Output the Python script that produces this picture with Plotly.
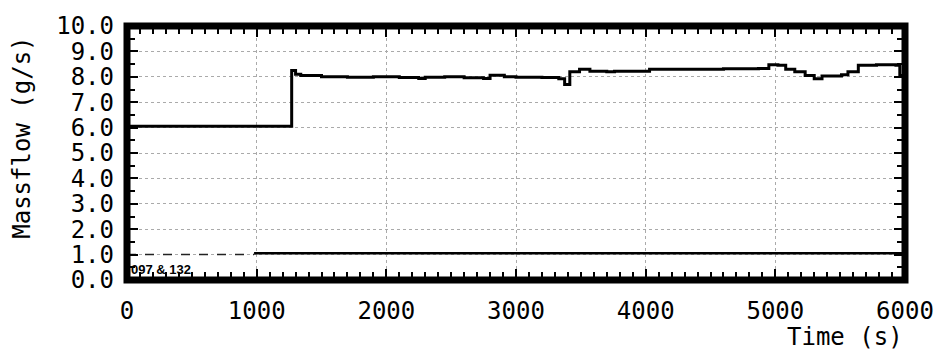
import plotly.graph_objects as go

# Series 1: main massflow (g/s)
t1 = [0, 1270, 1300, 1340, 1500, 1700, 1900, 2100, 2250, 2300, 2450, 2600, 2750, 2800, 2910,
      3000, 3200, 3330, 3375, 3415, 3490, 3570, 3700, 3760, 4030, 4300, 4600, 4870, 4950,
      5020, 5080, 5150, 5230, 5300, 5360, 5510, 5560, 5640, 5780, 5930, 5960, 6000]
v1 = [6.05, 8.25, 8.1, 8.05, 8.0, 7.98, 8.0, 7.97, 7.93, 7.98, 8.0, 7.96, 7.93, 8.06, 8.0,
      7.98, 7.97, 7.92, 7.7, 8.2, 8.3, 8.22, 8.2, 8.22, 8.3, 8.3, 8.32, 8.33, 8.47,
      8.45, 8.3, 8.2, 8.05, 7.92, 8.03, 8.08, 8.2, 8.45, 8.47, 8.45, 8.05, 8.0]

# Series 2: secondary massflow (g/s)
t2a = [0, 980]
v2a = [1.0, 1.0]
t2 = [980, 1500, 2500, 3500, 4500, 5500, 6000]
v2 = [1.05, 1.05, 1.04, 1.05, 1.05, 1.04, 1.05]

x_ticks = [0, 1000, 2000, 3000, 4000, 5000, 6000]
y_ticks = [0, 1, 2, 3, 4, 5, 6, 7, 8, 9, 10]

MONO = "DejaVu Sans Mono"

fig = go.Figure()
fig.add_trace(go.Scatter(x=t1, y=v1, mode="lines", line=dict(color="black", width=3, shape="hv"),
                         showlegend=False))
fig.add_trace(go.Scatter(x=t2a, y=v2a, mode="lines", line=dict(color="#222", width=1.5, dash="dash"),
                         showlegend=False))
fig.add_trace(go.Scatter(x=t2, y=v2, mode="lines", line=dict(color="black", width=2.5),
                         showlegend=False))

fig.update_layout(
    width=946, height=353,
    margin=dict(l=127, r=37, t=17, b=73),
    paper_bgcolor="white", plot_bgcolor="white",
    font=dict(family=MONO, color="black", size=24),
    xaxis=dict(range=[0, 6000], tickvals=x_ticks, ticktext=[str(v) for v in x_ticks],
               showgrid=True, gridcolor="#aaa", griddash="dot", gridwidth=1,
               zeroline=False, showline=False, ticks="inside", ticklen=11, tickwidth=2,
               tickcolor="black", mirror="ticks", ticklabelstandoff=14,
               minor=dict(dtick=100, tick0=0, ticks="inside", ticklen=8, tickwidth=1.5,
                          tickcolor="black", showgrid=False),
               tickfont=dict(family=MONO, size=24)),
    yaxis=dict(range=[0, 10], tickvals=y_ticks, ticktext=[f"{v:.1f}" for v in y_ticks],
               showgrid=True, gridcolor="#aaa", griddash="dot", gridwidth=1,
               zeroline=False, showline=False, ticks="inside", ticklen=11, tickwidth=2,
               tickcolor="black", mirror="ticks", ticklabelstandoff=12,
               minor=dict(dtick=0.5, tick0=0, ticks="inside", ticklen=8, tickwidth=1.5,
                          tickcolor="black", showgrid=False),
               tickfont=dict(family=MONO, size=24)),
    shapes=[dict(type="rect", xref="paper", yref="paper", x0=0, x1=1, y0=0, y1=1,
                 line=dict(color="black", width=7), layer="above")],
    annotations=[
        dict(text="Massflow (g/s)", textangle=-90, xref="paper", yref="paper",
             x=-0.135, y=0.56, xanchor="center", yanchor="middle", showarrow=False,
             font=dict(family=MONO, size=24)),
        dict(text="Time (s)", xref="paper", yref="paper", x=1.0, y=-0.16,
             xanchor="right", yanchor="top", showarrow=False,
             font=dict(family=MONO, size=24)),
        dict(text="<b>097 & 132</b>", xref="x", yref="y", x=15, y=0.4, xanchor="left",
             yanchor="middle", showarrow=False,
             font=dict(family="Liberation Sans", size=13)),
    ],
)

fig.write_html("out.html")
